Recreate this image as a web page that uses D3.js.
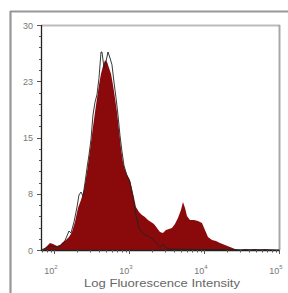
<!DOCTYPE html>
<html><head><meta charset="utf-8">
<script src="https://cdn.jsdelivr.net/npm/d3@7"></script>
<style>html,body{margin:0;padding:0;background:#fff;}svg{display:block;}</style>
</head><body>
<svg id="c" width="288" height="293"></svg>
<script>
// log10 of fluorescence intensity, and event counts
const sampleLog = [1.827,1.867,1.907,1.947,1.987,2.04,2.08,2.12,2.16,2.2,2.24,2.28,2.32,2.36,2.4,2.44,2.48,2.52,2.56,2.6,2.627,2.653,2.68,2.707,2.733,2.76,2.787,2.813,2.84,2.867,2.893,2.92,2.947,2.973,3.013,3.053,3.093,3.133,3.173,3.213,3.253,3.293,3.333,3.373,3.413,3.453,3.493,3.533,3.573,3.613,3.653,3.693,3.72,3.747,3.773,3.813,3.867,3.92,3.973,4.013,4.053,4.107,4.16,4.213,4.28,4.347,4.413,4.48,4.547,4.613,4.68,4.747,4.813,4.88,5.0];
const sampleCount = [0,0.13,0.53,0.93,0.8,0.53,0.67,1.07,1.33,1.73,2.4,3.73,5.6,6.67,8.0,10.4,13.3,16.4,19.3,22.0,23.5,24.5,25.3,25.1,24.3,23.5,22.0,20.3,18.4,16.0,13.6,11.7,10.7,10.1,9.33,7.6,5.73,5.07,4.67,4.4,4.0,3.73,3.47,2.93,2.4,2.27,2.67,2.8,2.93,3.47,4.27,5.33,6.4,5.6,4.53,4.0,4.0,3.87,3.6,2.67,1.73,1.33,1.2,0.93,0.67,0.4,0.13,0,0.13,0.07,0.13,0.07,0.13,0.07,0];
const controlLog = [1.827,1.893,1.947,2.013,2.08,2.133,2.173,2.2,2.227,2.267,2.307,2.333,2.36,2.387,2.413,2.44,2.467,2.493,2.52,2.547,2.573,2.6,2.627,2.64,2.667,2.693,2.72,2.747,2.773,2.8,2.827,2.853,2.88,2.907,2.933,2.973,3.013,3.053,3.093,3.133,3.173,3.213,3.253,3.293,3.333,3.373,3.413,3.453,3.493,3.547,3.947,5.0];
const controlCount = [0,0.27,0.53,0.4,0.53,0.93,1.87,2.53,2.27,3.73,5.73,7.33,7.73,7.2,8.93,10.9,12.7,14.7,18.0,19.7,20.7,22.9,26.4,26.4,24.3,25.1,26.4,25.6,24.7,22.4,20.3,18.0,15.3,13.1,11.3,9.87,9.07,7.07,4.67,2.93,2.4,2.0,1.87,1.6,1.33,0.8,0.4,0.8,0.27,0.13,0.07,0];
const yTickValues = [0, 7.5, 15, 22.5, 30];
const yTickLabels = ["0", "8", "15", "23", "30"];
const xDecades = [2, 3, 4, 5];
const xTitle = "Log Fluorescence Intensity";

const svg = d3.select("#c");
const L = 41, R = 279, T = 25, B = 250;
const x = d3.scaleLog().domain([Math.pow(10, 1.827), 1e5]).range([L, R]);
const y = d3.scaleLinear().domain([0, 30]).range([B, T]);
const font = "Liberation Sans, Arial, sans-serif";

// outer frame (top and left)
svg.append("line").attr("x1", 10).attr("x2", 288).attr("y1", 11.5).attr("y2", 11.5).attr("stroke", "#9a9696").attr("stroke-width", 2.2);
svg.append("line").attr("x1", 10.5).attr("x2", 10.5).attr("y1", 11).attr("y2", 293).attr("stroke", "#9a9696").attr("stroke-width", 2.2);

// plot frame top/right
svg.append("line").attr("x1", L).attr("x2", R + 1).attr("y1", T + 0.5).attr("y2", T + 0.5).attr("stroke", "#bdbaba").attr("stroke-width", 2);
svg.append("line").attr("x1", R + 0.5).attr("x2", R + 0.5).attr("y1", T).attr("y2", B).attr("stroke", "#aaa6a6").attr("stroke-width", 2);

const sample = sampleLog.map((v, i) => ({v: Math.pow(10, v), c: sampleCount[i]}));
const control = controlLog.map((v, i) => ({v: Math.pow(10, v), c: controlCount[i]}));

const area = d3.area().x(d => x(d.v)).y0(y(0)).y1(d => y(d.c));
svg.append("path").datum(sample).attr("d", area).attr("fill", "#8a0a0c");

const line = d3.line().x(d => x(d.v)).y(d => y(d.c));
svg.append("path").datum(control).attr("d", line).attr("fill", "none").attr("stroke", "#222").attr("stroke-width", 0.9);

// y axis
const yAxis = svg.append("g");
yAxis.append("line").attr("x1", L + 0.5).attr("x2", L + 0.5).attr("y1", T).attr("y2", B + 0.5).attr("stroke", "#222").attr("stroke-width", 1.3);
const yMinor = d3.range(0, 30.01, 1.5);
yAxis.selectAll(".ym").data(yMinor).enter().append("line")
  .attr("x1", L - 2).attr("x2", L).attr("y1", d => Math.round(y(d)) + 0.5).attr("y2", d => Math.round(y(d)) + 0.5)
  .attr("stroke", "#555").attr("stroke-width", 1);
yAxis.selectAll(".yM").data(yTickValues).enter().append("line")
  .attr("x1", L - 4).attr("x2", L).attr("y1", d => Math.round(y(d)) + 0.5).attr("y2", d => Math.round(y(d)) + 0.5)
  .attr("stroke", "#555").attr("stroke-width", 1);
yAxis.selectAll(".yl").data(yTickValues).enter().append("text")
  .attr("x", L - 8).attr("y", d => y(d) + 3.5).attr("text-anchor", "end")
  .attr("font-family", font).attr("font-size", 9).attr("fill", "#777")
  .text((d, i) => yTickLabels[i]);

// x axis
const xAxis = svg.append("g");
xAxis.append("line").attr("x1", L).attr("x2", R + 1).attr("y1", B + 0.5).attr("y2", B + 0.5).attr("stroke", "#222").attr("stroke-width", 1.3);
const xMinor = [];
for (let e = 1; e < 5; e++) for (let m = 2; m <= 9; m++) { const v = m * Math.pow(10, e); if (x(v) >= L && x(v) <= R) xMinor.push(v); }
xAxis.selectAll(".xm").data(xMinor).enter().append("line")
  .attr("x1", d => Math.round(x(d)) + 0.5).attr("x2", d => Math.round(x(d)) + 0.5).attr("y1", B).attr("y2", B + 2.5)
  .attr("stroke", "#555").attr("stroke-width", 1);
const xMajor = xDecades.map(e => Math.pow(10, e));
xAxis.selectAll(".xM").data(xMajor).enter().append("line")
  .attr("x1", d => Math.round(x(d)) + 0.5).attr("x2", d => Math.round(x(d)) + 0.5).attr("y1", B).attr("y2", B + 4)
  .attr("stroke", "#555").attr("stroke-width", 1);
const xl = xAxis.selectAll(".xl").data(xDecades).enter().append("text")
  .attr("x", d => x(Math.pow(10, d)) - 3).attr("y", 274).attr("text-anchor", "middle")
  .attr("font-family", font).attr("font-size", 9).attr("fill", "#777");
xl.append("tspan").text("10");
xl.append("tspan").attr("font-size", 6).attr("dy", -5).text(d => d);

svg.append("text").attr("x", 162).attr("y", 287).attr("text-anchor", "middle")
  .attr("font-family", font).attr("font-size", 11).attr("fill", "#666")
  .attr("textLength", 156).attr("lengthAdjust", "spacingAndGlyphs")
  .text(xTitle);
</script>
</body></html>
